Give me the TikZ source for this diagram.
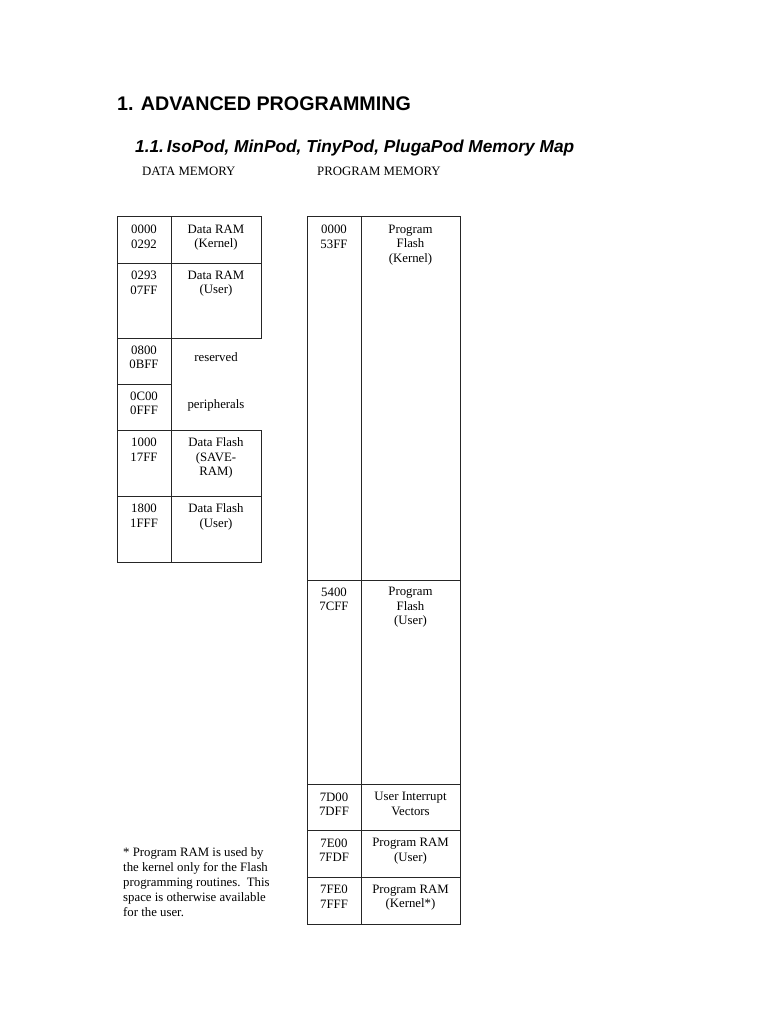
\documentclass[tikz,border=0pt]{standalone}
\usepackage{fontspec}
\setmainfont{Liberation Serif}
\newfontfamily\arialfont{Liberation Sans}
\begin{document}
\begin{tikzpicture}[x=1pt,y=-1pt,
  cellbox/.style={draw=black!85, line width=0.9pt},
  txt/.style={anchor=north, inner sep=0pt, align=center, font=\fontsize{12.8}{14.5}\selectfont},
  lbl/.style={anchor=base west, inner sep=0pt, font=\fontsize{12.8}{14.5}\selectfont},
  plain/.style={anchor=base, inner sep=0pt, font=\fontsize{12.8}{14.5}\selectfont}]
\useasboundingbox (0,0) rectangle (768,1024);
\fill[white] (0,0) rectangle (768,1024);

% headings
\node[anchor=base west, inner sep=0pt, font=\arialfont\bfseries\fontsize{19.7}{22}\selectfont] (title) at (117,110.5) {1. ADVANCED PROGRAMMING};
\node[anchor=base west, inner sep=0pt, font=\arialfont\bfseries\itshape\fontsize{17.3}{20}\selectfont] (subtitle) at (135,153) {1.1.\,IsoPod, MinPod, TinyPod, PlugaPod Memory Map};
\node[lbl] (dmhead) at (142,176) {DATA MEMORY};
\node[lbl] (pmhead) at (317,176) {PROGRAM MEMORY};

% data memory table
\draw[cellbox] (117,216) rectangle (171,263);
\draw[cellbox] (171,216) rectangle (261,263);
\draw[cellbox] (117,263) rectangle (171,338);
\draw[cellbox] (171,263) rectangle (261,338);
\draw[cellbox] (117,338) rectangle (171,384);
\draw[cellbox] (117,384) rectangle (171,430);
\draw[cellbox] (117,430) rectangle (171,496);
\draw[cellbox] (171,430) rectangle (261,496);
\draw[cellbox] (117,496) rectangle (171,562);
\draw[cellbox] (171,496) rectangle (261,562);

\node[txt] (d1a) at (144,224.8) {0000\\0292};
\node[txt] (d1b) at (216,224.8) {Data RAM\\(Kernel)};
\node[txt] (d2a) at (144,270.8) {0293\\07FF};
\node[txt] (d2b) at (216,270.8) {Data RAM\\(User)};
\node[txt] (d3a) at (144,345.3) {0800\\0BFF};
\node[plain] (d3b) at (216,361.8) {reserved};
\node[txt] (d4a) at (144,391.3) {0C00\\0FFF};
\node[plain] (d4b) at (216,408.8) {peripherals};
\node[txt] (d5a) at (144,437.8) {1000\\17FF};
\node[txt] (d5b) at (216,437.8) {Data Flash\\(SAVE-\\RAM)};
\node[txt] (d6a) at (144,503.8) {1800\\1FFF};
\node[txt] (d6b) at (216,503.8) {Data Flash\\(User)};

% program memory table
\draw[cellbox] (307,216) rectangle (361,580);
\draw[cellbox] (361,216) rectangle (460,580);
\draw[cellbox] (307,580) rectangle (361,784);
\draw[cellbox] (361,580) rectangle (460,784);
\draw[cellbox] (307,784) rectangle (361,830.5);
\draw[cellbox] (361,784) rectangle (460,830.5);
\draw[cellbox] (307,830.5) rectangle (361,877);
\draw[cellbox] (361,830.5) rectangle (460,877);
\draw[cellbox] (307,877) rectangle (361,924);
\draw[cellbox] (361,877) rectangle (460,924);

\node[txt] (p1a) at (334,224.8) {0000\\53FF};
\node[txt] (p1b) at (410.5,224.8) {Program\\Flash\\(Kernel)};
\node[txt] (p2a) at (334,587.3) {5400\\7CFF};
\node[txt] (p2b) at (410.5,587.3) {Program\\Flash\\(User)};
\node[txt] (p3a) at (334,792.3) {7D00\\7DFF};
\node[txt] (p3b) at (410.5,792.3) {User Interrupt\\Vectors};
\node[txt] (p4a) at (334,838.3) {7E00\\7FDF};
\node[txt] (p4b) at (410.5,838.3) {Program RAM\\(User)};
\node[txt] (p5a) at (334,884.8) {7FE0\\7FFF};
\node[txt] (p5b) at (410.5,884.8) {Program RAM\\(Kernel*)};

% footnote
\node[anchor=north west, inner sep=0pt, align=left, font=\fontsize{12.8}{15}\selectfont] (note) at (123,847.3)
  {* Program RAM is used by\\the kernel only for the Flash\\programming routines.\ \ This\\space is otherwise available\\for the user.};
\end{tikzpicture}
\end{document}
